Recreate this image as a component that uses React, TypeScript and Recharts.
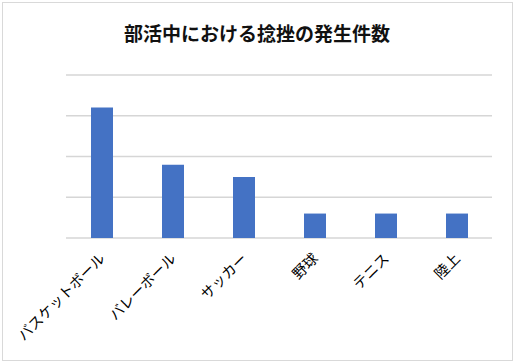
import { Bar, BarChart, CartesianGrid, XAxis, YAxis } from 'recharts'

const sports: string[] = [
  'バスケットボール',
  'バレーボール',
  'サッカー',
  '野球',
  'テニス',
  '陸上',
]
const counts: number[] = [32, 18, 15, 6, 6, 6]
const yTicks: number[] = [0, 10, 20, 30, 40]

const chartTitle = '部活中における捻挫の発生件数'
const jpFont = '"Noto Sans CJK JP", "Noto Sans", sans-serif'

const data = sports.map((sport, i) => ({ sport, value: counts[i] }))

type TickProps = { x?: number; y?: number; payload?: { value: string } }
const SlantTick = ({ x = 0, y = 0, payload }: TickProps) => (
  <text
    x={x}
    y={y}
    transform={`rotate(-45 ${x} ${y})`}
    textAnchor="end"
    dominantBaseline="central"
    fontSize={14.5}
    fontFamily={jpFont}
    fill="#000"
  >
    {payload?.value}
  </text>
)

export default function App() {
  return (
    <div style={{ position: 'absolute', left: 0, top: 0, width: 514, height: 362 }}>
      <div
        style={{
          position: 'absolute',
          left: 2,
          top: 2,
          width: 511,
          height: 359,
          boxSizing: 'border-box',
          border: '1px solid #d9d9d9',
        }}
      />
      <div
        style={{
          position: 'absolute',
          left: 0,
          top: 21,
          width: 514,
          textAlign: 'center',
          fontFamily: jpFont,
          fontWeight: 700,
          fontSize: 19,
          lineHeight: '24px',
          color: '#111',
        }}
      >
        {chartTitle}
      </div>
      <BarChart
        width={514}
        height={362}
        data={data}
        margin={{ top: 75, right: 22, bottom: 10, left: 66 }}
      >
        <CartesianGrid vertical={false} stroke="#d6d6d6" strokeWidth={1.6} />
        <YAxis hide domain={[0, 40]} ticks={yTicks} />
        <XAxis
          dataKey="sport"
          axisLine={false}
          tickLine={false}
          height={114}
          interval={0}
          tick={<SlantTick />}
          tickMargin={11}
        />
        <Bar dataKey="value" fill="#4472C4" barSize={22} isAnimationActive={false} />
      </BarChart>
    </div>
  )
}
